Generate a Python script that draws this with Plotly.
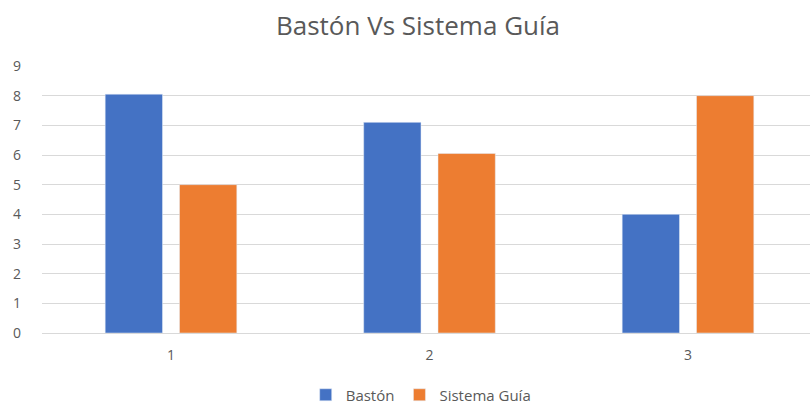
import plotly.graph_objects as go

categories = [1, 2, 3]
tick_labels = ["1", "2", "3"]
baston = [8.05, 7.1, 4.0]
sistema_guia = [5.0, 6.05, 8.0]

W, H = 810, 405
left, right, top, bottom = 42, 0, 66, 72
plot_w = W - left - right
cat_px = 258.5
x0 = 0.5 - (171 - 129.25 - left) / cat_px
x1 = x0 + plot_w / cat_px

fig = go.Figure()
fig.add_trace(go.Bar(x=categories, y=baston, name="Bastón", marker_color="#4472C4"))
fig.add_trace(go.Bar(x=categories, y=sistema_guia, name="Sistema Guía", marker_color="#ED7D31"))

fig.update_layout(
    width=W, height=H,
    margin=dict(l=left, r=right, t=top, b=bottom),
    paper_bgcolor="white", plot_bgcolor="white",
    barmode="group", bargap=0.425, bargroupgap=0.229,
    font=dict(family="Open Sans", color="#595959", size=14),
    title=dict(text="Bastón Vs Sistema Guía", x=0.516, xref="container", xanchor="center",
               y=1 - 26 / H, yref="container", yanchor="middle",
               font=dict(size=26, color="#595959")),
    legend=dict(orientation="h", x=0.52, xref="container", xanchor="center",
                y=1 - 395 / H, yref="container", yanchor="middle",
                font=dict(size=15, color="#595959"), itemwidth=30, traceorder="normal"),
    xaxis=dict(range=[x0, x1], tickvals=categories, ticktext=tick_labels,
               showgrid=False, zeroline=False, showline=False, ticks="",
               ticklabelstandoff=12,
               tickfont=dict(size=14, color="#595959")),
    yaxis=dict(range=[0, 9], dtick=1, showgrid=True, gridcolor="#D9D9D9", gridwidth=1,
               zeroline=True, zerolinecolor="#D9D9D9", zerolinewidth=1,
               showline=False, ticks="", ticklabelstandoff=20,
               tickfont=dict(size=14, color="#595959")),
)
fig.write_html("out.html")
